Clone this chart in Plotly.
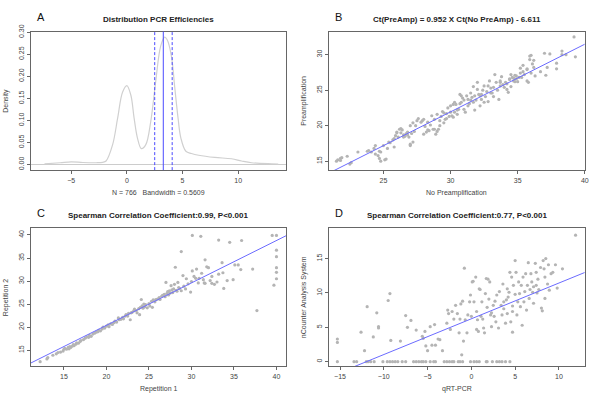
import plotly.graph_objects as go

# ---------------- Panel A: density ----------------
A_x = [-7.4, -6.0, -5.0, -3.95, -2.76, -2.17, -1.87, -1.28, -0.83, -0.39, 0.0, 0.36, 0.65, 0.95, 1.3,
       1.7, 2.14, 2.58, 3.03, 3.39, 3.62, 4.0, 4.3, 4.6, 4.85, 5.3, 5.8, 6.45, 7.9, 9.4, 10.3, 11.2, 13.0, 13.6]
A_y = [0.0015, 0.004, 0.006, 0.0045, 0.004, 0.005, 0.008, 0.045, 0.105, 0.164, 0.179, 0.157, 0.105, 0.06, 0.036,
       0.045, 0.097, 0.186, 0.268, 0.289, 0.283, 0.246, 0.175, 0.105, 0.06, 0.03, 0.025, 0.021, 0.016, 0.013, 0.008, 0.004, 0.0015, 0.001]
A_median = 3.27
A_quartiles = [2.5, 4.07]

# ---------------- Panel B ----------------
B_pts = [(21.5,15.0),(21.6,15.2),(21.8,15.4),(21.9,15.5),(21.8,15.1),(22.3,15.7),(22.5,14.6),(22.6,14.8),(23.1,16.3),(23.8,16.4),
(23.9,16.5),(24.1,16.3),(24.3,16.8),(24.4,17.2),(24.4,16.0),(24.6,15.8),(24.7,16.4),(24.8,16.3),(24.7,15.4),(24.8,15.0),(25.0,17.2),
(25.1,15.2),(25.2,15.3),(25.3,16.8),(25.4,17.7),(25.5,17.6),(25.7,18.0),(25.8,18.2),(25.8,17.0),(25.9,18.6),(26.0,19.0),(26.0,19.1),
(26.1,18.4),(26.2,19.5),(26.3,19.6),(26.3,19.0),(26.4,19.4),(26.5,18.4),(26.5,18.7),(26.6,18.5),(26.7,18.9),(26.8,19.1),(26.8,18.7),
(26.9,18.4),(27.0,17.2),(27.0,17.4),(27.0,20.0),(27.1,18.9),(27.2,20.4),(27.2,17.7),(27.3,19.2),(27.4,20.0),(27.5,20.7),(27.6,21.0),
(27.8,20.5),(27.9,20.7),(28.0,20.9),(28.0,18.8),(28.1,19.9),(28.2,19.1),(28.3,19.4),(28.3,20.5),(28.4,19.3),(28.5,20.1),(28.6,21.4),
(28.7,19.5),(28.8,19.5),(28.8,20.9),(28.9,18.8),(29.0,19.2),(29.0,21.6),(29.1,19.5),(29.2,20.0),(29.2,20.7),(29.3,21.3),(29.4,22.0),
(29.5,20.4),(29.5,21.8),(29.6,20.9),(29.7,21.0),(29.7,21.7),(29.8,22.5),(29.9,21.3),(30.0,21.9),(30.0,22.8),(30.1,21.4),(30.2,21.2),
(30.2,23.0),(30.3,23.3),(30.3,21.9),(30.4,23.0),(30.5,21.6),(30.5,22.2),(30.6,22.3),(30.7,23.1),(30.7,24.4),(30.8,24.2),(30.8,23.3),
(30.9,23.9),(31.0,22.3),(31.0,23.6),(31.1,21.9),(31.2,24.2),(31.3,22.8),(31.3,23.7),(31.4,23.1),(31.5,23.6),(31.5,24.6),(31.6,24.0),
(31.7,23.3),(31.7,25.5),(31.8,22.2),(31.8,24.2),(31.9,23.6),(32.0,25.1),(32.0,26.1),(32.1,24.4),(32.2,24.2),(32.2,22.8),(32.3,24.4),
(32.3,23.7),(32.4,25.0),(32.5,25.6),(32.5,23.3),(32.6,24.1),(32.7,24.8),(32.8,25.6),(32.8,23.4),(32.9,26.3),(33.0,24.6),(33.0,25.3),
(33.1,24.6),(33.2,24.1),(33.2,25.4),(33.3,27.2),(33.4,26.1),(33.5,25.0),(33.6,23.7),(33.7,25.6),(33.7,26.3),(33.8,26.9),(33.9,25.8),
(34.0,25.4),(34.1,26.1),(34.2,25.9),(34.2,25.1),(34.3,24.7),(34.4,26.5),(34.4,26.6),(34.5,25.5),(34.6,26.8),(34.7,26.7),(34.7,26.3),
(34.8,26.2),(34.8,27.1),(34.9,26.6),(34.9,27.0),(35.0,26.2),(35.1,26.8),(35.2,27.4),(35.2,28.1),(35.3,26.8),(35.4,28.5),(35.4,27.6),
(35.5,27.2),(35.7,26.3),(35.7,27.9),(35.8,26.1),(35.9,29.8),(36.0,29.9),(36.1,28.7),(36.2,28.2),(36.2,29.2),(36.3,27.0),(36.7,27.6),
(37.0,30.2),(37.1,27.1),(37.4,30.1),(37.9,28.8),(37.9,28.0),(38.3,30.0),(38.3,30.5),(38.6,30.0),(39.2,32.5),(39.3,29.7),(37.2,28.2),
(35.7,28.0),(35.9,29.3),(36.0,27.4),(34.5,27.2),(33.7,26.1)]
B_x = [p[0] for p in B_pts]
B_y = [p[1] for p in B_pts]
B_slope, B_intercept = 0.952, -6.611

# ---------------- Panel C ----------------
C_pts = [(12.2,12.5),(13.0,13.1),(13.1,13.4),(13.7,13.9),(14.1,14.2),(14.3,14.5),(14.6,14.6),(14.9,14.8),(15.0,15.2),(15.1,15.4),
(15.3,15.2),(15.5,15.6),(15.6,15.3),(15.7,15.8),(15.8,15.6),(16.0,15.9),(16.1,16.2),(16.2,16.0),(16.4,16.3),(16.5,16.6),(16.7,16.5),
(16.9,16.9),(17.0,17.1),(17.3,17.3),(17.5,17.6),(17.7,17.9),(17.9,17.8),(18.0,18.2),(18.2,18.0),(18.4,18.5),(18.6,18.7),(18.8,18.9),
(19.0,19.0),(19.1,19.3),(19.3,19.2),(19.5,19.6),(19.6,20.0),(19.8,19.8),(20.0,20.2),(20.2,20.5),(20.3,20.1),(20.5,20.7),(20.7,20.6),
(20.9,21.0),(21.0,21.3),(21.2,21.1),(21.4,22.0),(21.5,21.6),(21.7,21.7),(21.9,22.1),(22.0,21.8),(22.2,22.4),(22.3,22.7),(22.5,22.4),
(22.6,23.0),(22.8,21.6),(22.9,23.1),(23.0,23.2),(23.2,23.5),(23.3,23.9),(23.5,23.6),(23.6,23.1),(23.8,24.0),(23.9,22.7),(24.0,24.3),
(24.1,26.0),(24.2,24.6),(24.3,24.1),(24.4,25.0),(24.5,24.4),(24.6,24.9),(24.8,24.2),(25.0,25.1),(25.1,24.6),(25.3,25.6),(25.4,24.3),
(25.5,25.9),(25.7,25.5),(25.8,26.0),(26.0,26.1),(26.2,26.4),(26.3,26.0),(26.5,26.7),(26.6,26.9),(26.8,27.1),(26.9,26.6),(27.0,29.7),
(27.1,27.3),(27.2,27.7),(27.3,27.0),(27.4,27.9),(27.5,27.4),(27.6,29.0),(27.7,28.1),(27.8,27.5),(27.9,28.3),(28.0,29.3),(28.1,33.0),
(28.2,28.0),(28.3,27.8),(28.4,29.7),(28.5,28.6),(28.6,28.4),(28.8,27.9),(28.8,36.4),(29.0,31.2),(29.1,28.9),(29.3,28.3),(29.4,30.5),
(29.6,29.4),(29.9,27.6),(30.0,29.9),(30.1,32.2),(30.1,39.9),(30.3,31.0),(30.5,30.6),(30.6,32.6),(30.8,29.6),(30.9,30.6),(31.1,39.7),
(31.2,31.7),(31.4,30.3),(31.5,29.6),(31.6,34.6),(31.6,29.5),(31.8,33.1),(32.0,32.9),(32.2,30.1),(32.4,31.0),(32.4,29.5),(32.7,29.3),
(33.0,29.8),(33.2,31.5),(33.2,38.9),(33.6,34.0),(33.7,31.8),(33.8,28.4),(34.2,30.1),(34.5,38.4),(34.9,30.3),(35.1,33.5),(35.5,33.5),
(35.8,32.5),(35.9,38.8),(37.2,32.6),(37.7,23.6),(39.5,39.9),(39.7,29.1),(40.0,39.9),(40.0,36.7),(40.0,35.3),(40.0,32.9),(40.0,31.9),(40.0,30.5)]
C_x = [p[0] for p in C_pts]
C_y = [p[1] for p in C_pts]
C_slope, C_intercept = 0.92, 2.0

# ---------------- Panel D ----------------
D_pts = [(-15.3,3.3),(-15.3,2.8),(-12.6,4.3),(-12.2,1.6),(-11.9,8.0),(-11.2,3.6),(-10.8,7.1),(-10.6,5.1),(-10.6,4.9),(-9.5,8.9),
(-9.3,9.9),(-9.2,3.1),(-8.1,3.0),(-7.5,6.7),(-7.3,5.0),(-6.9,6.0),(-6.3,4.6),(-5.6,3.7),(-5.5,3.4),(-5.3,4.4),(-5.2,2.3),(-5.0,1.6),
(-4.7,5.1),(-4.5,2.4),(-4.2,5.4),(-4.1,2.4),(-3.8,3.3),(-3.6,3.2),(-3.3,1.6),(-2.8,5.6),(-2.7,7.5),(-2.6,7.0),(-2.4,4.7),(-2.2,7.3),
(-2.0,6.2),(-1.8,8.2),(-1.6,7.0),(-1.4,4.2),(-1.3,6.2),(-1.2,8.4),(-1.1,1.0),(-1.0,8.8),(-0.9,3.0),(-0.8,13.6),(-0.7,6.1),(-0.5,4.2),
(-0.4,6.8),(-0.2,8.7),(-0.1,9.7),(0.0,6.6),(0.1,11.6),(0.2,11.7),(0.3,8.7),(0.5,12.3),(0.6,4.7),(0.6,7.3),(0.7,6.1),(0.8,4.4),
(0.9,10.6),(1.0,10.5),(1.1,6.6),(1.2,8.7),(1.3,6.2),(1.4,4.9),(1.5,4.2),(1.6,9.9),(1.7,12.1),(1.8,7.9),(1.9,12.0),(2.0,9.1),
(2.1,11.6),(2.2,6.8),(2.3,5.1),(2.3,7.1),(2.5,8.2),(2.6,6.6),(2.7,8.8),(2.8,5.8),(2.9,9.7),(3.1,4.9),(3.2,10.2),(3.4,8.2),(3.5,6.8),
(3.6,11.3),(3.7,8.7),(3.7,7.7),(3.9,5.6),(4.0,9.0),(4.1,10.6),(4.1,7.0),(4.2,9.4),(4.3,10.1),(4.4,13.0),(4.5,5.8),(4.6,12.3),(4.7,8.1),
(4.7,4.3),(4.8,11.1),(5.0,14.7),(5.0,9.8),(5.1,13.0),(5.2,6.8),(5.3,8.7),(5.4,11.6),(5.5,9.9),(5.6,8.0),(5.7,11.1),(5.8,5.3),(5.9,12.3),
(6.0,8.7),(6.1,10.2),(6.2,12.8),(6.3,7.5),(6.4,11.1),(6.5,14.4),(6.6,9.2),(6.7,10.5),(6.8,12.8),(6.9,11.6),(7.0,10.1),(7.1,8.5),
(7.3,14.3),(7.4,11.1),(7.4,13.0),(7.5,10.0),(7.6,12.0),(7.7,10.5),(7.9,13.7),(8.0,7.8),(8.1,7.4),(8.2,14.7),(8.3,13.5),(8.4,12.3),
(8.5,15.0),(8.7,11.3),(8.8,14.1),(8.9,10.4),(9.1,12.8),(9.3,13.0),(9.6,14.1),(9.8,10.7),(10.4,13.5),(11.9,18.4),(8.4,9.2),(7.1,10.9),
(4.7,7.3)]
D_zero_x = [-15.3,-13.4,-13.1,-12.0,-11.8,-11.5,-11.1,-10.1,-9.6,-9.3,-9.0,-8.7,-8.4,-7.9,-7.5,-6.6,-6.3,-6.0,-5.7,-5.5,-5.2,
            -4.7,-4.3,-4.1,-3.1,-2.8,-2.5,-2.2,-2.0,-1.5,-1.3,-1.0,-0.1,0.3,0.6,0.9,1.7,1.8,2.4,2.9,3.2,3.5,3.9,4.4]
D_x = [p[0] for p in D_pts] + D_zero_x
D_y = [p[1] for p in D_pts] + [0.0] * len(D_zero_x)
D_slope, D_intercept = 0.52, 6.24

# ---------------- Text ----------------
titles = ["Distribution PCR Efficiencies",
          "Ct(PreAmp) = 0.952 X Ct(No PreAmp) - 6.611",
          "Spearman Correlation Coefficient:0.99, P<0.001",
          "Spearman Correlation Coefficient:0.77, P<0.001"]
xlabels = ["N = 766   Bandwidth = 0.5609", "No Preamplification", "Repetition 1", "qRT-PCR"]
ylabels = ["Density", "Preamplification", "Repetition 2", "nCounter Analysis System"]
letters = ["A", "B", "C", "D"]

W, H = 600, 401
# plot boxes in pixels (left, right, top, bottom)
boxes = [(31, 288, 25, 166), (331, 588.7, 25, 166), (31, 288, 225, 365.7), (331, 588.7, 225, 365.7)]
xranges = [[-8.63, 14.3], [20.93, 40.0], [11.1, 41.13], [-16.28, 12.95]]
yranges = [[-0.0127, 0.3015], [13.75, 33.25], [11.5, 41.5], [-0.67, 19.43]]
xticks = [[-5, 0, 5, 10], [25, 30, 35, 40], [15, 20, 25, 30, 35, 40], [-15, -10, -5, 0, 5, 10]]
yticks = [[0, 0.05, 0.1, 0.15, 0.2, 0.25, 0.3], [15, 20, 25, 30], [15, 20, 25, 30, 35, 40], [0, 5, 10, 15]]
ytickfmt = [".2f", "", "", ""]

FONT = "Liberation Sans, Arial, sans-serif"
GREY_PT = "#b4b4b4"
LINE_BLUE = "#6b6bff"
FRAME = "#666666"

fig = go.Figure()
layout = dict(width=W, height=H, margin=dict(l=0, r=0, t=0, b=0), paper_bgcolor="white",
              plot_bgcolor="white", showlegend=False, hovermode=False,
              font=dict(family=FONT, color="#333"))
annotations = []
shapes = []

for i in range(4):
    l, r, t, b = boxes[i]
    xa = "xaxis" if i == 0 else f"xaxis{i+1}"
    ya = "yaxis" if i == 0 else f"yaxis{i+1}"
    xref = "x" if i == 0 else f"x{i+1}"
    yref = "y" if i == 0 else f"y{i+1}"
    common = dict(showgrid=False, zeroline=False, showline=True, mirror=True, linecolor=FRAME, linewidth=1,
                  ticks="outside", ticklen=3, tickcolor=FRAME, fixedrange=True,
                  tickfont=dict(size=7, color="#444", family=FONT))
    layout[xa] = dict(domain=[l / W, r / W], range=xranges[i], anchor=yref, tickvals=xticks[i], **common)
    layout[ya] = dict(domain=[1 - b / H, 1 - t / H], range=yranges[i], anchor=xref, tickvals=yticks[i],
                      tickangle=-90, tickformat=ytickfmt[i], **common)
    cx = (l + r) / 2 / W
    annotations.append(dict(text="<b>" + titles[i] + "</b>", x=cx, y=1 - (t - 12.5) / H, xref="paper", yref="paper",
                            showarrow=False, font=dict(size=8, color="#222", family=FONT), xanchor="center", yanchor="middle"))
    annotations.append(dict(text=xlabels[i], x=cx, y=1 - (b + 23) / H, xref="paper", yref="paper",
                            showarrow=False, font=dict(size=7, color="#444", family=FONT), xanchor="center", yanchor="middle"))
    annotations.append(dict(text=ylabels[i], x=(l - 25) / W, y=1 - (t + b) / 2 / H, xref="paper", yref="paper",
                            showarrow=False, textangle=-90, font=dict(size=7, color="#444", family=FONT),
                            xanchor="center", yanchor="middle"))
    annotations.append(dict(text=letters[i], x=(l + 10) / W, y=1 - (t - 15) / H, xref="paper", yref="paper",
                            showarrow=False, font=dict(size=11, color="#111", family=FONT), xanchor="center", yanchor="middle"))

# Panel A
fig.add_trace(go.Scatter(x=[xranges[0][0], xranges[0][1]], y=[0, 0], mode="lines",
                         line=dict(color="#cccccc", width=1), xaxis="x", yaxis="y", hoverinfo="skip"))
fig.add_trace(go.Scatter(x=A_x, y=A_y, mode="lines", line=dict(color="#d0d0d0", width=1.2, shape="spline"),
                         xaxis="x", yaxis="y"))
for xv, dash in [(A_median, "solid"), (A_quartiles[0], "dash"), (A_quartiles[1], "dash")]:
    shapes.append(dict(type="line", xref="x", yref="paper", x0=xv, x1=xv,
                       y0=1 - boxes[0][3] / H, y1=1 - boxes[0][2] / H,
                       line=dict(color="#4a4aff", width=1, dash=dash if dash == "solid" else "3px,2px")))

# Scatter panels
for i, (xs, ys, s, c) in enumerate([(B_x, B_y, B_slope, B_intercept), (C_x, C_y, C_slope, C_intercept),
                                    (D_x, D_y, D_slope, D_intercept)], start=2):
    xr = xranges[i - 1]
    fig.add_trace(go.Scatter(x=xs, y=ys, mode="markers", marker=dict(color=GREY_PT, size=3.2, line=dict(width=0)),
                             xaxis=f"x{i}", yaxis=f"y{i}"))
    fig.add_trace(go.Scatter(x=xr, y=[s * xr[0] + c, s * xr[1] + c], mode="lines",
                             line=dict(color=LINE_BLUE, width=1), xaxis=f"x{i}", yaxis=f"y{i}", cliponaxis=True))

layout["annotations"] = annotations
layout["shapes"] = shapes
fig.update_layout(**layout)
fig.write_html("out.html", config={"displayModeBar": False, "staticPlot": True},
               post_script="document.body.style.margin='0';document.body.style.padding='0';")
